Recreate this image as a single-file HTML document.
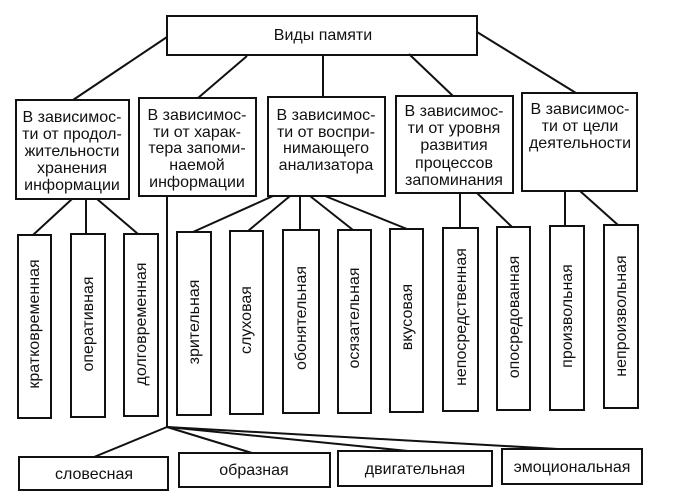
<!DOCTYPE html>
<html><head><meta charset="utf-8"><style>
html,body{margin:0;padding:0;background:#fff;}
svg{display:block;}
text{font-family:"Liberation Sans",Arial,sans-serif;font-size:16px;fill:#111;}
</style></head><body>
<svg width="673" height="501" viewBox="0 0 673 501" xmlns="http://www.w3.org/2000/svg">
<g stroke="#111" stroke-width="2" fill="none">
<rect x="167" y="16" width="310" height="39"/>
<line x1="167" y1="37" x2="73" y2="100"/>
<line x1="247" y1="56" x2="198" y2="98"/>
<line x1="323" y1="55" x2="323" y2="97"/>
<line x1="409" y1="54" x2="453" y2="96"/>
<line x1="477" y1="32" x2="576" y2="93"/>
<rect x="16" y="100" width="113" height="99"/>
<rect x="139" y="98" width="117" height="98"/>
<rect x="268" y="97" width="117" height="99"/>
<rect x="396" y="96" width="117" height="97"/>
<rect x="522" y="93" width="115" height="98"/>
<line x1="72" y1="199" x2="33" y2="235"/>
<line x1="86" y1="199" x2="86" y2="234"/>
<line x1="97" y1="199" x2="138" y2="234"/>
<line x1="273" y1="196" x2="193" y2="232"/>
<line x1="290" y1="196" x2="248" y2="231"/>
<line x1="300" y1="196" x2="300" y2="230"/>
<line x1="310" y1="196" x2="353" y2="230"/>
<line x1="325" y1="196" x2="407" y2="229"/>
<line x1="460" y1="193" x2="460" y2="228"/>
<line x1="477" y1="193" x2="512" y2="227"/>
<line x1="565" y1="191" x2="565" y2="226"/>
<line x1="580" y1="191" x2="618" y2="225"/>
<rect x="18" y="235" width="33" height="183"/>
<rect x="71" y="234" width="34" height="183"/>
<rect x="124" y="234" width="34" height="182"/>
<rect x="177" y="232" width="34" height="183"/>
<rect x="230" y="231" width="33" height="183"/>
<rect x="283" y="230" width="36" height="183"/>
<rect x="338" y="230" width="33" height="183"/>
<rect x="390" y="229" width="33" height="183"/>
<rect x="443" y="228" width="35" height="183"/>
<rect x="497" y="227" width="33" height="183"/>
<rect x="550" y="226" width="34" height="184"/>
<rect x="604" y="225" width="34" height="183"/>
<line x1="167" y1="196" x2="167" y2="427"/>
<line x1="167" y1="427" x2="94" y2="457"/>
<line x1="167" y1="427" x2="252" y2="453"/>
<line x1="167" y1="427" x2="408" y2="451"/>
<line x1="167" y1="427" x2="558" y2="449"/>
<rect x="19" y="457" width="149" height="33"/>
<rect x="179" y="453" width="151" height="34"/>
<rect x="338" y="451" width="154" height="35"/>
<rect x="502" y="449" width="140" height="35"/>
</g>
<text x="323" y="40" text-anchor="middle">Виды памяти</text>
<g text-anchor="middle">
<text x="72" y="122">В зависимос-</text><text x="72" y="139">ти от продол-</text><text x="72" y="156">жительности</text><text x="72" y="173">хранения</text><text x="72" y="190">информации</text>
<text x="197" y="120">В зависимос-</text><text x="197" y="137">ти от харак-</text><text x="197" y="153">тера запоми-</text><text x="197" y="170">наемой</text><text x="197" y="187">информации</text>
<text x="326" y="120">В зависимос-</text><text x="326" y="137">ти от воспри-</text><text x="326" y="153">нимающего</text><text x="326" y="170">анализатора</text>
<text x="454" y="116">В зависимос-</text><text x="454" y="133">ти от уровня</text><text x="454" y="150">развития</text><text x="454" y="168">процессов</text><text x="454" y="185">запоминания</text>
<text x="580" y="114">В зависимос-</text><text x="580" y="131">ти от цели</text><text x="580" y="148">деятельности</text>
<text x="94" y="479">словесная</text>
<text x="254" y="475">образная</text>
<text x="415" y="474">двигательная</text>
<text x="572" y="472">эмоциональная</text>
</g>
<g text-anchor="middle">
<text transform="translate(39,324) rotate(-90)">кратковременная</text>
<text transform="translate(93,324) rotate(-90)">оперативная</text>
<text transform="translate(146,324) rotate(-90)">долговременная</text>
<text transform="translate(199,322) rotate(-90)">зрительная</text>
<text transform="translate(251,320) rotate(-90)">слуховая</text>
<text transform="translate(306,318) rotate(-90)">обонятельная</text>
<text transform="translate(359,318) rotate(-90)">осязательная</text>
<text transform="translate(412,317) rotate(-90)">вкусовая</text>
<text transform="translate(466,317) rotate(-90)">непосредственная</text>
<text transform="translate(519,317) rotate(-90)">опосредованная</text>
<text transform="translate(572,316) rotate(-90)">произвольная</text>
<text transform="translate(626,316) rotate(-90)">непроизвольная</text>
</g>
</svg>
</body></html>
